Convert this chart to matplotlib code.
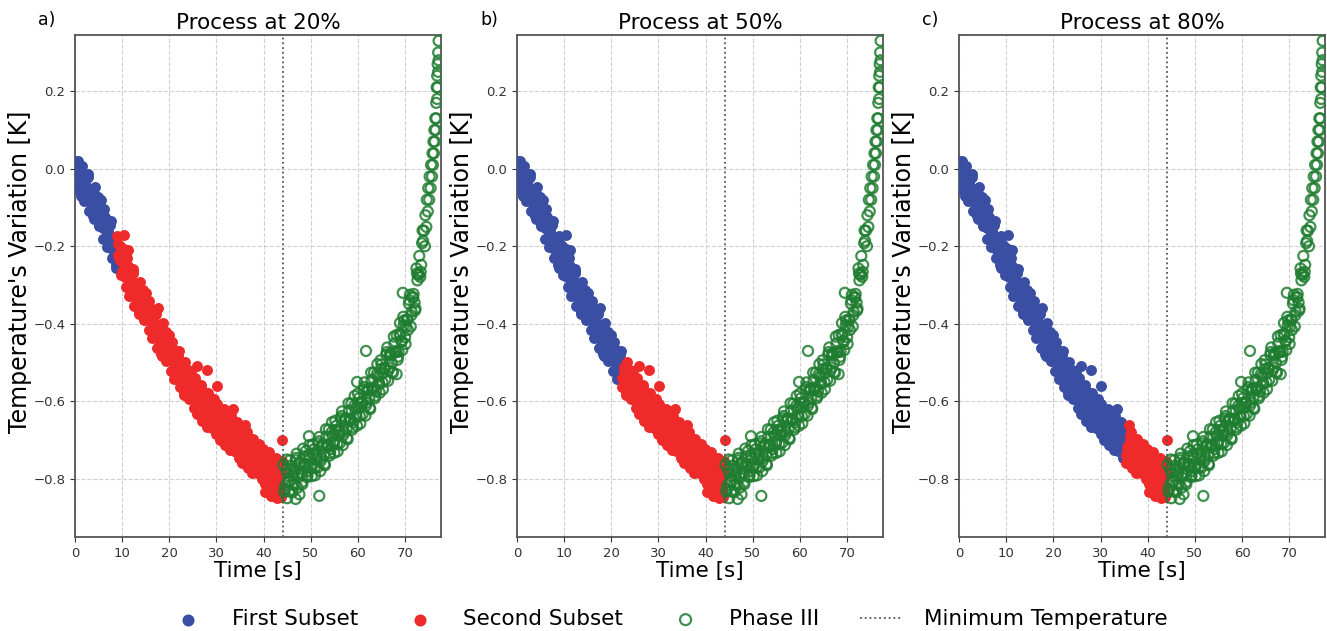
import numpy as np
import matplotlib.pyplot as plt

# ---- data (time in s, temperature variation in K) ----
# cooling branch, first pass
time_down1 = [0.0, 0.4, 0.8, 1.2, 1.6, 2.0, 2.4, 2.8, 3.2, 3.6,
              4.0, 4.4, 4.8, 5.2, 5.6, 6.0, 6.4, 6.8, 7.2, 7.6,
              8.0, 8.4, 8.8, 9.2, 9.6, 10.0, 10.4, 10.8, 11.2, 11.6,
              12.0, 12.4, 12.8, 13.2, 13.6, 14.0, 14.4, 14.8, 15.2, 15.6,
              16.0, 16.4, 16.8, 17.2, 17.6, 18.0, 18.4, 18.8, 19.2, 19.6,
              20.0, 20.4, 20.8, 21.2, 21.6, 22.0, 22.4, 22.8, 23.2, 23.6,
              24.0, 24.4, 24.8, 25.2, 25.6, 26.0, 26.4, 26.8, 27.2, 27.6,
              28.0, 28.4, 28.8, 29.2, 29.6, 30.0, 30.4, 30.8, 31.2, 31.6,
              32.0, 32.4, 32.8, 33.2, 33.6, 34.0, 34.4, 34.8, 35.2, 35.6,
              36.0, 36.4, 36.8, 37.2, 37.6, 38.0, 38.4, 38.8, 39.2, 39.6,
              40.0, 40.4, 40.8, 41.2, 41.6, 42.0, 42.4, 42.8, 43.2, 43.6, 44.0]
temp_down1 = [0.020, -0.040, -0.015, -0.070, -0.010, -0.045, -0.079, -0.013, -0.082, -0.061,
              -0.130, -0.096, -0.072, -0.138, -0.119, -0.180, -0.125, -0.165, -0.200, -0.135,
              -0.205, -0.186, -0.257, -0.223, -0.199, -0.265, -0.245, -0.305, -0.250, -0.290,
              -0.325, -0.259, -0.328, -0.307, -0.376, -0.340, -0.314, -0.378, -0.357, -0.416,
              -0.360, -0.399, -0.433, -0.367, -0.436, -0.415, -0.484, -0.448, -0.422, -0.486,
              -0.465, -0.523, -0.466, -0.504, -0.537, -0.470, -0.538, -0.516, -0.584, -0.547,
              -0.520, -0.582, -0.559, -0.616, -0.558, -0.595, -0.626, -0.557, -0.623, -0.599,
              -0.665, -0.625, -0.595, -0.655, -0.630, -0.685, -0.625, -0.660, -0.690, -0.620,
              -0.685, -0.660, -0.725, -0.685, -0.655, -0.715, -0.690, -0.745, -0.685, -0.720,
              -0.750, -0.680, -0.745, -0.720, -0.785, -0.745, -0.714, -0.773, -0.747, -0.801,
              -0.740, -0.774, -0.803, -0.732, -0.796, -0.770, -0.833, -0.791, -0.759, -0.817, -0.790]

# cooling branch, second pass
time_down2 = [0.2, 0.6, 1.0, 1.4, 1.8, 2.2, 2.6, 3.0, 3.4, 3.8,
              4.2, 4.6, 5.0, 5.4, 5.8, 6.2, 6.6, 7.0, 7.4, 7.8,
              8.2, 8.6, 9.0, 9.4, 9.8, 10.2, 10.6, 11.0, 11.4, 11.8,
              12.2, 12.6, 13.0, 13.4, 13.8, 14.2, 14.6, 15.0, 15.4, 15.8,
              16.2, 16.6, 17.0, 17.4, 17.8, 18.2, 18.6, 19.0, 19.4, 19.8,
              20.2, 20.6, 21.0, 21.4, 21.8, 22.2, 22.6, 23.0, 23.4, 23.8,
              24.2, 24.6, 25.0, 25.4, 25.8, 26.2, 26.6, 27.0, 27.4, 27.8,
              28.2, 28.6, 29.0, 29.4, 29.8, 30.2, 30.6, 31.0, 31.4, 31.8,
              32.2, 32.6, 33.0, 33.4, 33.8, 34.2, 34.6, 35.0, 35.4, 35.8,
              36.2, 36.6, 37.0, 37.4, 37.8, 38.2, 38.6, 39.0, 39.4, 39.8,
              40.2, 40.6, 41.0, 41.4, 41.8, 42.2, 42.6, 43.0, 43.4, 43.8]
temp_down2 = [-0.053, -0.003, -0.038, 0.008, -0.063, -0.040, -0.024, -0.108, -0.057, -0.096,
              -0.046, -0.102, -0.148, -0.104, -0.145, -0.105, -0.180, -0.160, -0.145, -0.230,
              -0.181, -0.222, -0.173, -0.229, -0.275, -0.230, -0.270, -0.230, -0.305, -0.285,
              -0.270, -0.354, -0.303, -0.342, -0.291, -0.345, -0.389, -0.343, -0.382, -0.341,
              -0.415, -0.394, -0.378, -0.462, -0.411, -0.450, -0.399, -0.453, -0.497, -0.451,
              -0.489, -0.447, -0.520, -0.498, -0.481, -0.564, -0.512, -0.550, -0.498, -0.551,
              -0.594, -0.546, -0.583, -0.540, -0.612, -0.588, -0.569, -0.650, -0.596, -0.632,
              -0.578, -0.628, -0.668, -0.618, -0.653, -0.608, -0.678, -0.653, -0.633, -0.713,
              -0.658, -0.693, -0.638, -0.688, -0.728, -0.678, -0.713, -0.668, -0.738, -0.713,
              -0.693, -0.773, -0.718, -0.753, -0.698, -0.747, -0.786, -0.735, -0.769, -0.723,
              -0.792, -0.766, -0.745, -0.824, -0.768, -0.802, -0.745, -0.793, -0.831, -0.779]

# cooling branch, third pass
time_down3 = [0.3, 0.7, 1.1, 1.5, 1.9, 2.3, 2.7, 3.1, 3.5, 3.9,
              4.3, 4.7, 5.1, 5.5, 5.9, 6.3, 6.7, 7.1, 7.5, 7.9,
              8.3, 8.7, 9.1, 9.5, 9.9, 10.3, 10.7, 11.1, 11.5, 11.9,
              12.3, 12.7, 13.1, 13.5, 13.9, 14.3, 14.7, 15.1, 15.5, 15.9,
              16.3, 16.7, 17.1, 17.5, 17.9, 18.3, 18.7, 19.1, 19.5, 19.9,
              20.3, 20.7, 21.1, 21.5, 21.9, 22.3, 22.7, 23.1, 23.5, 23.9,
              24.3, 24.7, 25.1, 25.5, 25.9, 26.3, 26.7, 27.1, 27.5, 27.9,
              28.3, 28.7, 29.1, 29.5, 29.9, 30.3, 30.7, 31.1, 31.5, 31.9,
              32.3, 32.7, 33.1, 33.5, 33.9, 34.3, 34.7, 35.1, 35.5, 35.9,
              36.3, 36.7, 37.1, 37.5, 37.9, 38.3, 38.7, 39.1, 39.5, 39.9,
              40.3, 40.7, 41.1, 41.5, 41.9, 42.3, 42.7, 43.1, 43.5, 43.9]
temp_down3 = [-0.049, 0.021, -0.044, -0.019, -0.084, -0.047, -0.021, -0.085, -0.064, -0.123,
              -0.068, -0.109, -0.145, -0.081, -0.152, -0.133, -0.203, -0.168, -0.143, -0.208,
              -0.188, -0.249, -0.195, -0.236, -0.272, -0.208, -0.278, -0.258, -0.328, -0.293,
              -0.267, -0.331, -0.310, -0.369, -0.313, -0.352, -0.386, -0.320, -0.389, -0.368,
              -0.437, -0.401, -0.375, -0.439, -0.418, -0.477, -0.421, -0.460, -0.494, -0.428,
              -0.496, -0.474, -0.542, -0.505, -0.478, -0.541, -0.519, -0.577, -0.520, -0.558,
              -0.590, -0.522, -0.589, -0.566, -0.633, -0.595, -0.566, -0.627, -0.603, -0.659,
              -0.599, -0.634, -0.664, -0.594, -0.659, -0.634, -0.699, -0.659, -0.629, -0.689,
              -0.664, -0.719, -0.659, -0.694, -0.724, -0.654, -0.719, -0.694, -0.759, -0.719,
              -0.689, -0.749, -0.724, -0.779, -0.719, -0.753, -0.782, -0.711, -0.775, -0.749,
              -0.813, -0.772, -0.741, -0.800, -0.774, -0.827, -0.765, -0.798, -0.826, -0.754]

# heating branch (Phase III), first pass
time_up1 = [44.2, 44.6, 45.0, 45.4, 45.8, 46.2, 46.6, 47.0, 47.4, 47.8,
            48.2, 48.6, 49.0, 49.4, 49.8, 50.2, 50.6, 51.0, 51.4, 51.8,
            52.2, 52.6, 53.0, 53.4, 53.8, 54.2, 54.6, 55.0, 55.4, 55.8,
            56.2, 56.6, 57.0, 57.4, 57.8, 58.2, 58.6, 59.0, 59.4, 59.8,
            60.2, 60.6, 61.0, 61.4, 61.8, 62.2, 62.6, 63.0, 63.4, 63.8,
            64.2, 64.6, 65.0, 65.4, 65.8, 66.2, 66.6, 67.0, 67.4, 67.8,
            68.2, 68.6, 69.0, 69.4, 69.8, 70.2, 70.6, 71.0, 71.4, 71.8,
            72.2, 72.6, 73.0, 73.4, 73.8]
temp_up1 = [-0.764, -0.817, -0.785, -0.833, -0.766, -0.793, -0.814, -0.735, -0.791, -0.757,
            -0.814, -0.766, -0.728, -0.780, -0.747, -0.793, -0.724, -0.750, -0.771, -0.692,
            -0.747, -0.711, -0.765, -0.714, -0.673, -0.723, -0.688, -0.733, -0.663, -0.688,
            -0.707, -0.626, -0.680, -0.644, -0.698, -0.647, -0.606, -0.655, -0.619, -0.663,
            -0.592, -0.615, -0.633, -0.551, -0.604, -0.567, -0.620, -0.568, -0.526, -0.574,
            -0.536, -0.578, -0.505, -0.527, -0.544, -0.461, -0.513, -0.475, -0.527, -0.474,
            -0.429, -0.472, -0.430, -0.468, -0.391, -0.407, -0.416, -0.325, -0.369, -0.323,
            -0.361, -0.288, -0.225, -0.248, -0.186]

# heating branch (Phase III), second pass
time_up2 = [44.4, 44.8, 45.2, 45.6, 46.0, 46.4, 46.8, 47.2, 47.6, 48.0,
            48.4, 48.8, 49.2, 49.6, 50.0, 50.4, 50.8, 51.2, 51.6, 52.0,
            52.4, 52.8, 53.2, 53.6, 54.0, 54.4, 54.8, 55.2, 55.6, 56.0,
            56.4, 56.8, 57.2, 57.6, 58.0, 58.4, 58.8, 59.2, 59.6, 60.0,
            60.4, 60.8, 61.2, 61.6, 62.0, 62.4, 62.8, 63.2, 63.6, 64.0,
            64.4, 64.8, 65.2, 65.6, 66.0, 66.4, 66.8, 67.2, 67.6, 68.0,
            68.4, 68.8, 69.2, 69.6, 70.0, 70.4, 70.8, 71.2, 71.6, 72.0,
            72.4, 72.8, 73.2, 73.6]
temp_up2 = [-0.833, -0.776, -0.804, -0.752, -0.815, -0.781, -0.752, -0.823, -0.759, -0.785,
            -0.722, -0.764, -0.796, -0.738, -0.765, -0.711, -0.772, -0.738, -0.709, -0.780,
            -0.714, -0.738, -0.672, -0.711, -0.740, -0.680, -0.705, -0.650, -0.710, -0.675,
            -0.644, -0.713, -0.647, -0.671, -0.605, -0.644, -0.673, -0.612, -0.636, -0.580,
            -0.638, -0.601, -0.569, -0.637, -0.570, -0.593, -0.526, -0.564, -0.592, -0.530,
            -0.552, -0.494, -0.551, -0.513, -0.480, -0.547, -0.479, -0.501, -0.433, -0.470,
            -0.493, -0.426, -0.444, -0.382, -0.435, -0.389, -0.348, -0.407, -0.331, -0.345,
            -0.257, -0.274, -0.279, -0.192]

# heating branch (Phase III), third pass
time_up3 = [44.5, 44.9, 45.3, 45.7, 46.1, 46.5, 46.9, 47.3, 47.7, 48.1,
            48.5, 48.9, 49.3, 49.7, 50.1, 50.5, 50.9, 51.3, 51.7, 52.1,
            52.5, 52.9, 53.3, 53.7, 54.1, 54.5, 54.9, 55.3, 55.7, 56.1,
            56.5, 56.9, 57.3, 57.7, 58.1, 58.5, 58.9, 59.3, 59.7, 60.1,
            60.5, 60.9, 61.3, 61.7, 62.1, 62.5, 62.9, 63.3, 63.7, 64.1,
            64.5, 64.9, 65.3, 65.7, 66.1, 66.5, 66.9, 67.3, 67.7, 68.1,
            68.5, 68.9, 69.3, 69.7, 70.1, 70.5, 70.9, 71.3, 71.7, 72.1,
            72.5, 72.9, 73.3, 73.7]
temp_up3 = [-0.827, -0.750, -0.808, -0.776, -0.834, -0.785, -0.746, -0.797, -0.763, -0.809,
            -0.742, -0.769, -0.791, -0.713, -0.770, -0.735, -0.791, -0.742, -0.703, -0.754,
            -0.718, -0.762, -0.691, -0.715, -0.734, -0.654, -0.709, -0.674, -0.729, -0.679,
            -0.638, -0.687, -0.651, -0.695, -0.624, -0.648, -0.667, -0.586, -0.640, -0.604,
            -0.657, -0.605, -0.563, -0.611, -0.574, -0.617, -0.545, -0.568, -0.586, -0.504,
            -0.555, -0.517, -0.569, -0.516, -0.473, -0.520, -0.482, -0.524, -0.451, -0.473,
            -0.485, -0.398, -0.446, -0.404, -0.452, -0.390, -0.339, -0.378, -0.332, -0.366,
            -0.270, -0.272, -0.266, -0.159]

# steep end of the heating branch
time_end = [74.0, 74.2, 74.3, 74.5, 74.6, 74.8, 74.9, 75.1, 75.2, 75.4,
            75.5, 75.7, 75.8, 75.9, 76.0, 76.1, 76.2, 76.3, 76.4, 76.5,
            76.6, 76.6, 76.7, 76.8, 76.8, 76.9, 76.9, 77.0, 77.0, 77.1, 77.1]
temp_end = [-0.16, -0.20, -0.12, -0.15, -0.08, -0.11, -0.05, -0.08, -0.02, -0.05,
            0.01, -0.02, 0.04, 0.01, 0.07, 0.04, 0.10, 0.07, 0.13, 0.10,
            0.17, 0.13, 0.21, 0.18, 0.24, 0.21, 0.27, 0.25, 0.30, 0.33, 0.28]

# scattered points away from the band
time_out = [10.3, 11.2, 17.6, 25.8, 27.9, 30.2, 33.5, 36.0, 44.0, 40.3, 41.5, 42.8, 43.6,
            45.0, 46.8, 47.6, 49.6, 51.8, 59.8, 61.7, 68.2, 69.5]
temp_out = [-0.17, -0.21, -0.36, -0.51, -0.52, -0.56, -0.62, -0.66, -0.70, -0.835, -0.845, -0.85, -0.848,
            -0.85, -0.852, -0.84, -0.69, -0.844, -0.55, -0.47, -0.53, -0.32]

t_min = 44.2             # time of minimum temperature
percents = [20, 50, 80]  # process fraction used for the split
tags = ['a)', 'b)', 'c)']

time_s = np.array(time_down1 + time_down2 + time_down3 + time_up1 + time_up2 + time_up3
                  + time_end + time_out)
temp_k = np.array(temp_down1 + temp_down2 + temp_down3 + temp_up1 + temp_up2 + temp_up3
                  + temp_end + temp_out)

blue = '#3a4ea3'
red = '#ee2a2a'
green = '#1f7d30'

fig = plt.figure(figsize=(13.27, 6.31), dpi=100)
lefts = [0.0565, 0.3896, 0.7227]

for left, pct, tag in zip(lefts, percents, tags):
    ax = fig.add_axes([left, 0.149, 0.2758, 0.7955])
    split = t_min * pct / 100.0
    first = time_s < split
    second = (time_s >= split) & (time_s < t_min)
    third = time_s >= t_min

    ax.scatter(time_s[first], temp_k[first], s=62, color=blue, linewidths=0, label='First Subset', zorder=3)
    ax.scatter(time_s[second], temp_k[second], s=62, color=red, linewidths=0, label='Second Subset', zorder=3)
    ax.scatter(time_s[third], temp_k[third], s=52, facecolors='none', edgecolors=green,
               linewidths=1.6, alpha=0.85, label='Phase III', zorder=4)
    ax.axvline(t_min, color='#555555', ls=':', lw=1.3, label='Minimum Temperature', zorder=5)

    ax.set_xlim(0, 77.6)
    ax.set_ylim(-0.95, 0.345)
    ax.set_xticks(np.arange(0, 71, 10))
    ax.set_yticks([-0.8, -0.6, -0.4, -0.2, 0.0, 0.2])
    ax.grid(True, ls='--', color='#d0d0d0', lw=0.8)
    ax.set_axisbelow(True)
    ax.tick_params(labelsize=9.5, colors='#333333')
    for sp in ax.spines.values():
        sp.set_color('#555555')
        sp.set_linewidth(1.3)

    ax.set_title(f'Process at {pct}%', fontsize=15.5, pad=4)
    ax.text(-0.1, 1.03, tag, transform=ax.transAxes, fontsize=12.5, va='center')
    ax.set_xlabel('Time [s]', fontsize=15.5, labelpad=1)
    ax.set_ylabel("Temperature's Variation [K]", fontsize=17)
    ax.yaxis.set_label_coords(-0.118, 0.528)

handles, labels = ax.get_legend_handles_labels()
fig.legend(handles, labels, loc='lower center', ncol=4, bbox_to_anchor=(0.503, -0.028),
           frameon=False, fontsize=15.5, columnspacing=1.9, handletextpad=1.0, markerscale=1.1)

fig.savefig('out.png', dpi=100)
